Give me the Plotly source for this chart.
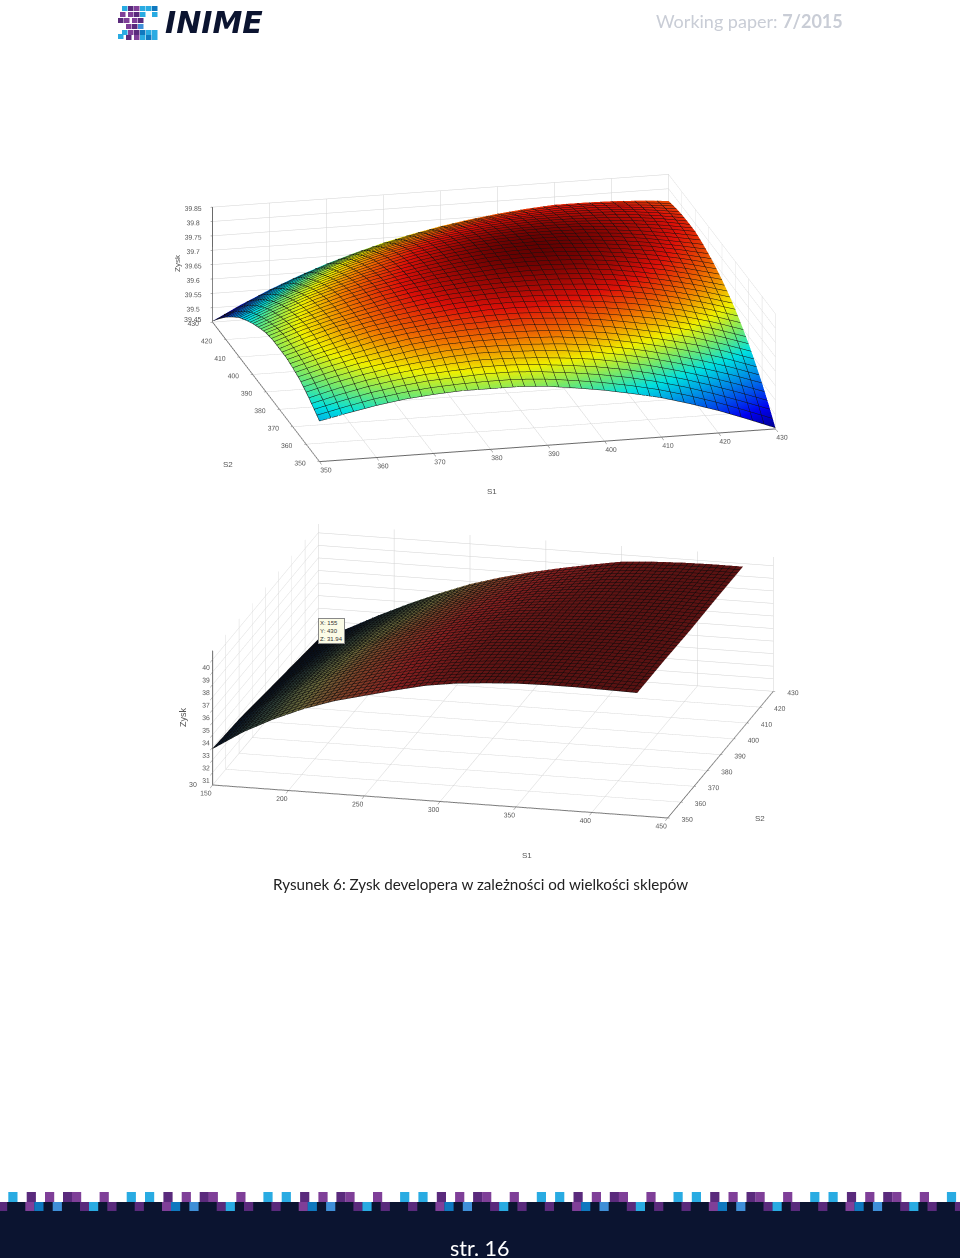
import plotly.graph_objects as go

W, H = 960, 1258

# ---- upper surface: developer's profit against shop sizes (S2 rows, S1 columns, upper triangle; the surface is symmetric)
S_TOP = [350, 355, 360, 365, 370, 375, 380, 385, 390, 395, 400, 405, 410, 415, 420, 425, 430]
Z_TOP_UPPER = [
    [39.591, 39.612, 39.631, 39.646, 39.655, 39.661, 39.661, 39.661, 39.655, 39.642, 39.627, 39.608, 39.587, 39.559, 39.528, 39.492, 39.454],
    [39.636, 39.657, 39.672, 39.684, 39.689, 39.695, 39.695, 39.688, 39.678, 39.665, 39.649, 39.627, 39.602, 39.572, 39.539, 39.504],
    [39.678, 39.695, 39.707, 39.718, 39.724, 39.722, 39.718, 39.711, 39.701, 39.684, 39.665, 39.640, 39.613, 39.583, 39.549],
    [39.712, 39.730, 39.741, 39.745, 39.746, 39.745, 39.741, 39.730, 39.716, 39.697, 39.676, 39.652, 39.623, 39.589],
    [39.746, 39.756, 39.764, 39.768, 39.769, 39.764, 39.756, 39.743, 39.727, 39.709, 39.686, 39.657, 39.625],
    [39.769, 39.779, 39.786, 39.787, 39.784, 39.777, 39.767, 39.754, 39.737, 39.714, 39.688, 39.656],
    [39.792, 39.798, 39.802, 39.800, 39.796, 39.789, 39.777, 39.760, 39.739, 39.713, 39.684],
    [39.807, 39.811, 39.813, 39.811, 39.805, 39.794, 39.779, 39.758, 39.735, 39.707],
    [39.819, 39.823, 39.822, 39.817, 39.807, 39.792, 39.775, 39.752, 39.727],
    [39.828, 39.828, 39.824, 39.815, 39.803, 39.787, 39.767, 39.743],
    [39.830, 39.827, 39.820, 39.809, 39.796, 39.777, 39.756],
    [39.826, 39.821, 39.813, 39.800, 39.784, 39.766],
    [39.819, 39.811, 39.802, 39.789, 39.773],
    [39.807, 39.800, 39.790, 39.773],
    [39.796, 39.785, 39.771],
    [39.777, 39.766],
    [39.758],
]
TOP_TICKS = [350, 360, 370, 380, 390, 400, 410, 420, 430]
TOP_Z_TICKS = [39.45, 39.5, 39.55, 39.6, 39.65, 39.7, 39.75, 39.8, 39.85]
TOP_Z_LABELS = ["", "39.5", "39.55", "39.6", "39.65", "39.7", "39.75", "39.8", "39.85"]

# ---- lower surface: wide S1 range
S1_LOW = [150, 170, 190, 210, 230, 250, 270, 290, 310, 330, 350, 370, 390, 410, 430]
S2_LOW = [350, 370, 390, 410, 430]
Z_LOW = [
    [32.9, 34.4, 35.6, 36.6, 37.4, 38.0, 38.6, 39.15, 39.5, 39.7, 39.85, 39.9, 39.9, 39.85, 39.8],
    [32.7, 34.3, 35.6, 36.6, 37.4, 38.1, 38.7, 39.15, 39.5, 39.7, 39.8, 39.88, 39.9, 39.87, 39.8],
    [32.3, 33.9, 35.2, 36.3, 37.2, 37.9, 38.5, 39.0, 39.35, 39.55, 39.66, 39.77, 39.82, 39.81, 39.73],
    [31.9, 33.3, 34.6, 35.7, 36.6, 37.4, 38.1, 38.6, 39.05, 39.35, 39.59, 39.73, 39.81, 39.82, 39.77],
    [31.5, 32.6, 33.8, 34.9, 35.9, 36.8, 37.5, 38.1, 38.6, 39.05, 39.46, 39.63, 39.73, 39.77, 39.76],
]
LOW_X_TICKS = [150, 200, 250, 300, 350, 400, 450]
LOW_Y_TICKS = [350, 360, 370, 380, 390, 400, 410, 420, 430]
LOW_Z_TICKS = [30, 31, 32, 33, 34, 35, 36, 37, 38, 39, 40]
LOW_Z_LABELS = ["", "31", "32", "33", "34", "35", "36", "37", "38", "39", "40"]

# data cursor shown on the lower surface
CURSOR_S1 = [155]
CURSOR_S2 = [430]
CURSOR_Z = [31.94]

# ---- page furniture
CAPTION = "Rysunek 6: Zysk developera w zależności od wielkości sklepów"
HEADER_PLAIN = "Working paper: "
HEADER_BOLD = "7/2015"
PAGE_LABEL = "str. 16"
LOGO_WORD = "INIME"
TOOLTIP = ["X: 155", "Y: 430", "Z: 31.94"]

JET = [[0, "#00008a"], [0.13, "#0000f0"], [0.43, "#00e0e0"], [0.53, "#70e870"], [0.64, "#f0f000"],
       [0.76, "#f07800"], [0.88, "#dc1008"], [1, "#640000"]]
DARK_JET = [[0, "#040818"], [0.2, "#0a1a30"], [0.42, "#34463a"], [0.58, "#6c6a3c"], [0.72, "#7e4028"],
            [0.85, "#851f1f"], [1, "#5a1212"]]

z_top = [[0.0] * len(S_TOP) for _ in S_TOP]
for i, row in enumerate(Z_TOP_UPPER):
    for k, v in enumerate(row):
        z_top[i][i + k] = v
        z_top[i + k][i] = v

NOLIGHT = dict(ambient=1, diffuse=0, specular=0, roughness=1, fresnel=0)
TICK_FONT = dict(size=9, color="#555555", family="Liberation Sans")
NOTE_FONT = dict(size=7, color="#555555", family="Liberation Sans")


def px(x):
    return x / W


def py(y):
    return 1 - y / H


def rect(x0, y0, x1, y1, color):
    return dict(type="rect", xref="paper", yref="paper", x0=px(x0), x1=px(x1), y0=py(y0), y1=py(y1),
                fillcolor=color, line=dict(width=0), layer="below")


def label(x, y, text, size=8, color="#555555", angle=0, family="Liberation Sans", anchor="center", **kw):
    return dict(xref="paper", yref="paper", x=px(x), y=py(y), text=text, showarrow=False, textangle=angle,
                xanchor=anchor, yanchor="middle", font=dict(size=size, color=color, family=family, **kw))


fig = go.Figure()
fig.add_trace(go.Surface(
    x=S_TOP, y=S_TOP, z=z_top, scene="scene", colorscale=JET, cmin=39.45, cmax=39.83, showscale=False,
    lighting=NOLIGHT, hoverinfo="skip",
    contours=dict(
        x=dict(show=True, start=350, end=430, size=2, color="#101010", width=1, highlight=False),
        y=dict(show=True, start=350, end=430, size=2, color="#101010", width=1, highlight=False),
        z=dict(highlight=False),
    ),
))
fig.add_trace(go.Surface(
    x=S1_LOW, y=S2_LOW, z=Z_LOW, scene="scene2", colorscale=DARK_JET, cmin=31.5, cmax=39.83, showscale=False,
    lighting=NOLIGHT, hoverinfo="skip",
    contours=dict(
        x=dict(show=True, start=150, end=430, size=4, color="#0a0a0a", width=1, highlight=False),
        y=dict(show=True, start=350, end=430, size=2, color="#0a0a0a", width=1, highlight=False),
        z=dict(highlight=False),
    ),
))
fig.add_trace(go.Scatter3d(
    x=CURSOR_S1, y=CURSOR_S2, z=CURSOR_Z, scene="scene2", mode="markers", hoverinfo="skip",
    marker=dict(size=3, color="#000000", symbol="square"),
))


def axis(rng, ticks, labels=None, ticklen=5):
    return dict(range=rng, tickmode="array", tickvals=ticks, ticktext=labels or [str(t) for t in ticks],
                title=dict(text=""), showbackground=False, showgrid=True, gridcolor="#d2d2d2", gridwidth=1,
                zeroline=False, showline=True, linecolor="#6a6a6a", linewidth=2, ticks="outside", ticklen=ticklen,
                tickcolor="#6a6a6a", tickfont=TICK_FONT, tickangle=0, showspikes=False)


def domain(cx, cy, w, h):
    return dict(x=[(cx - w / 2) / W, (cx + w / 2) / W], y=[1 - (cy + h / 2) / H, 1 - (cy - h / 2) / H])


scene1 = dict(
    domain=domain(493.5, 318, 800, 380),
    xaxis=axis([350, 430], TOP_TICKS, ticklen=2),
    yaxis=axis([350, 430], TOP_TICKS, ticklen=10),
    zaxis=axis([39.45, 39.85], TOP_Z_TICKS, TOP_Z_LABELS, ticklen=5),
    aspectmode="manual", aspectratio=dict(x=2.465, y=2.465, z=0.636),
    camera=dict(projection=dict(type="orthographic"), center=dict(x=0, y=0, z=0), up=dict(x=0, y=0, z=1),
                eye=dict(x=-0.2174 * 1.95, y=-0.927 * 1.95, z=0.306 * 1.95)),
    bgcolor="rgba(0,0,0,0)",
    annotations=[dict(x=350, y=430, z=39.45, text="39.45", showarrow=False, xshift=-19, yshift=3, font=NOTE_FONT)],
)
scene2 = dict(
    domain=domain(493, 671, 800, 330),
    xaxis=axis([150, 450], LOW_X_TICKS, ticklen=2),
    yaxis=axis([350, 430], LOW_Y_TICKS, ticklen=10),
    zaxis=axis([30, 40.7], LOW_Z_TICKS, LOW_Z_LABELS, ticklen=5),
    aspectmode="manual", aspectratio=dict(x=2.84, y=2.684, z=0.852),
    camera=dict(projection=dict(type="orthographic"), center=dict(x=0, y=0, z=0), up=dict(x=0, y=0, z=1),
                eye=dict(x=0.228 * 1.697, y=-0.928 * 1.697, z=0.2945 * 1.697)),
    bgcolor="rgba(0,0,0,0)",
    annotations=[dict(x=150, y=350, z=30, text="30", showarrow=False, xshift=-20, yshift=1, font=NOTE_FONT)],
)

# footer pattern
DARK, PURPLE, DKPUR, LIGHT, BLUE, SKY = "#0b1430", "#7f3f98", "#5a2a7c", "#29abe2", "#0f78bf", "#3f8fd8"
UPPER = [(0, LIGHT), (18.3, LIGHT), (36.7, DKPUR), (55, PURPLE), (73, DKPUR), (82, PURPLE), (109.6, PURPLE)]
LOWER = [(0, DKPUR), (27.3, PURPLE), (36.3, BLUE), (54.7, SKY), (82, DKPUR), (91, LIGHT), (109.3, DKPUR)]
shapes = [rect(0, 1202, W, H, DARK)]
for n in range(-1, 8):
    for off, c in UPPER:
        shapes.append(rect(126.7 + 136.7 * (n - 1) + off, 1192, 126.7 + 136.7 * (n - 1) + off + 9.2, 1202, c))
    for off, c in LOWER:
        shapes.append(rect(134.7 + 136.7 * (n - 1) + off, 1202, 134.7 + 136.7 * (n - 1) + off + 9.2, 1211, c))

# logo mosaic
LOGO_SQUARES = [
    (122, 6, "#29abe2"), (128, 6, "#5a2a7c"), (134, 6, "#7f3f98"), (140, 6, "#29abe2"), (146, 6, "#29abe2"), (152, 6, "#0f78bf"),
    (120, 12, "#7f3f98"), (128, 12, "#7f3f98"), (134, 12, "#5a2a7c"), (140, 12, "#29abe2"), (152, 12, "#29abe2"),
    (118, 18, "#5a2a7c"), (124, 18, "#7f3f98"), (132, 18, "#7f3f98"), (138, 18, "#5a2a7c"),
    (126, 24, "#7f3f98"), (132, 24, "#5a2a7c"), (138, 24, "#3f8fd8"),
    (122, 30, "#29abe2"), (128, 30, "#7f3f98"), (134, 30, "#5a2a7c"), (140, 30, "#0f78bf"), (146, 30, "#29abe2"), (152, 30, "#29abe2"),
    (118, 34, "#29abe2"), (126, 35, "#5a2a7c"), (134, 35, "#7f3f98"), (140, 35, "#29abe2"), (146, 35, "#0f78bf"), (152, 35, "#29abe2"),
]
for x, y, c in LOGO_SQUARES:
    shapes.append(rect(x, y, x + 5.5, y + 5, c))

annotations = [
    label(214, 22, "<b><i>" + LOGO_WORD + "</i></b>", size=30, color="#0b1430", family="DejaVu Sans"),
    label(845, 21, HEADER_PLAIN + "<b>" + HEADER_BOLD + "</b>", size=18, color="#c9cdd6", family="Lato", anchor="right"),
    label(480, 884, CAPTION, size=15.2, color="#222222", family="Lato"),
    label(480, 1248, PAGE_LABEL, size=21.5, color="#ffffff", family="Lato"),
    label(178, 263, "Zysk", size=8, angle=-90),
    label(228, 464, "S2"),
    label(492, 492, "S1"),
    label(183, 718, "Zysk", size=9, angle=-90),
    label(760, 818, "S2"),
    label(527, 855, "S1"),
]
annotations.append(dict(xref="paper", yref="paper", x=px(331), y=py(631), text="<br>".join(TOOLTIP), showarrow=False,
                        align="left", bgcolor="#fbfbe6", bordercolor="#888888", borderwidth=1, borderpad=1,
                        font=dict(size=6, color="#333333", family="Liberation Sans")))

fig.update_layout(
    width=W, height=H, margin=dict(l=0, r=0, t=0, b=0), paper_bgcolor="#ffffff", showlegend=False,
    scene=scene1, scene2=scene2, shapes=shapes, annotations=annotations,
)
fig.write_html("out.html", config={"displayModeBar": False},
               post_script="document.body.style.margin='0';document.documentElement.style.overflow='hidden';")
